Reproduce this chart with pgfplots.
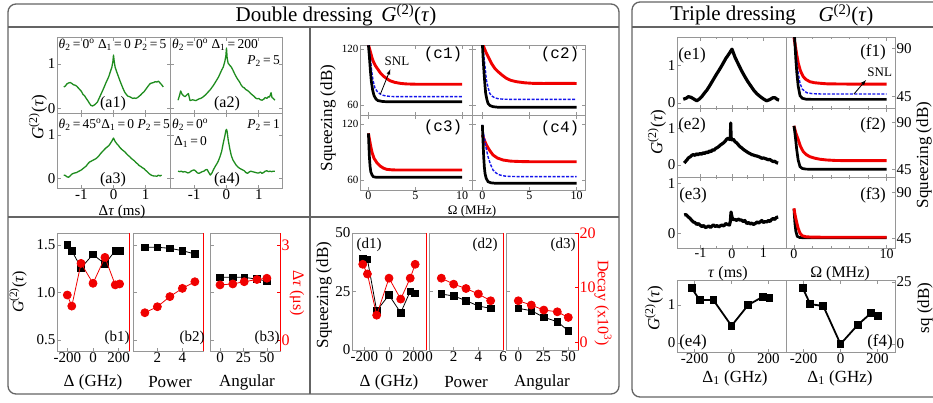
\documentclass[border=0pt]{standalone}
\usepackage{pgfplots}
\pgfplotsset{compat=1.18}
\usepackage{fontspec}
\setmainfont{Liberation Serif}
\newfontfamily\monofont{Liberation Mono}
\definecolor{dgreen}{RGB}{30,140,30}
\definecolor{framec}{RGB}{100,100,100}
\definecolor{axc}{RGB}{150,150,150}
\definecolor{sred}{RGB}{240,0,0}
\definecolor{sblue}{RGB}{20,20,235}
\newcommand{\fs}[1]{\fontsize{#1}{#1}\selectfont}
\newcommand{\Gt}{\textit{G}\textsuperscript{(2)}(\textit{τ})}
\newcommand{\eq}{\,=\,}
\pgfplotsset{
  every axis/.append style={scale only axis, anchor=north west,
    axis line style={draw=axc, line width=0.9pt},
    tick style={draw=axc, line width=0.6pt},
    tick align=inside, major tick length=3.5pt, minor tick length=2pt,
    ticklabel style={font=\fs{14}, inner sep=1.5pt},
    /pgf/number format/assume math mode=true},
  green/.style={dgreen, line width=1.3pt, no marks, line join=round},
  thickk/.style={black, line width=3.2pt, no marks, line join=round},
  cred/.style={sred, line width=2.9pt, no marks},
  cblk/.style={black, line width=2.7pt, no marks},
  cblu/.style={sblue, line width=1.4pt, dash pattern=on 3pt off 1.5pt, no marks},
  bsq/.style={black, line width=0.8pt, mark=square*, mark size=3.3pt, mark options={solid}},
  rci/.style={sred, line width=0.8pt, mark=*, mark size=4pt, mark options={solid}},
  RA/.style={axis x line=none, axis y line*=right, y axis line style={draw=red, line width=0.9pt},
    tick style={draw=red}, yticklabel style={text=red, font=\fs{16}}, ytick=\empty},
}
\begin{document}
\begin{tikzpicture}
\useasboundingbox (0,0) rectangle (933pt,-402pt);
% ---------- frames ----------
\draw[framec, line width=1.3pt, rounded corners=8pt] (8pt,-4pt) rectangle (619pt,-394pt);
\draw[framec, line width=1.1pt] (8pt,-27pt) -- (619pt,-27pt);
\draw[framec, line width=1.1pt] (310pt,-27pt) -- (310pt,-394pt);
\draw[framec, line width=1.1pt] (8pt,-217pt) -- (619pt,-217pt);
\draw[framec, line width=1.3pt, rounded corners=8pt] (632pt,-2pt) rectangle (950pt,-397pt);
\draw[framec, line width=1.1pt] (632pt,-27pt) -- (950pt,-27pt);
\node[font=\fs{21}] at (336pt,-15pt) {Double dressing \,\Gt};
\node[font=\fs{21}] at (733pt,-15pt) {Triple dressing};
\node[font=\fs{21}] at (846pt,-15pt) {\Gt};

% ---------- a panels ----------
\begin{axis}[at={(57pt,-37pt)}, width=113pt, height=76pt, xmin=-1.76, xmax=1.76, ymin=-0.11, ymax=1.61,
  xtick={-1,0,1}, xticklabels={}, ytick={0,1}, yticklabels={0,1}, yticklabel style={font=\fs{15}}]
\addplot[green] coordinates {(-1.55,0.48)(-1.5,0.50)(-1.45,0.55)(-1.4,0.57)(-1.35,0.58)(-1.3,0.56)(-1.25,0.53)(-1.2,0.52)(-1.15,0.50)(-1.1,0.46)(-1.05,0.42)(-1.0,0.38)(-0.95,0.31)(-0.9,0.28)(-0.85,0.22)(-0.8,0.17)(-0.75,0.11)(-0.7,0.06)(-0.65,0.05)(-0.6,0.07)(-0.55,0.10)(-0.5,0.14)(-0.45,0.22)(-0.4,0.30)(-0.35,0.38)(-0.3,0.46)(-0.25,0.55)(-0.2,0.63)(-0.15,0.71)(-0.1,0.82)(-0.05,0.93)(-0.02,1.05)(0,1.20)(0.02,1.07)(0.05,0.93)(0.1,0.82)(0.15,0.72)(0.2,0.62)(0.25,0.53)(0.3,0.44)(0.35,0.36)(0.4,0.31)(0.45,0.27)(0.5,0.26)(0.55,0.24)(0.6,0.22)(0.65,0.23)(0.7,0.22)(0.75,0.24)(0.8,0.27)(0.85,0.30)(0.9,0.34)(0.95,0.37)(1.0,0.42)(1.05,0.47)(1.1,0.52)(1.15,0.56)(1.2,0.57)(1.25,0.58)(1.3,0.60)(1.35,0.59)(1.4,0.61)(1.45,0.57)(1.5,0.53)(1.55,0.48)};
\end{axis}
\begin{axis}[at={(170pt,-37pt)}, width=112pt, height=76pt, xmin=-1.75, xmax=1.72, ymin=-0.11, ymax=1.61,
  xtick={-1,0,1}, xticklabels={}, ytick={0,1}, yticklabels={}]
\addplot[green] coordinates {(-1.5,0.18)(-1.45,0.30)(-1.42,0.39)(-1.38,0.32)(-1.33,0.28)(-1.28,0.26)(-1.23,0.30)(-1.18,0.33)(-1.13,0.17)(-1.05,0.19)(-1.0,0.18)(-0.95,0.17)(-0.9,0.19)(-0.85,0.21)(-0.8,0.22)(-0.75,0.24)(-0.7,0.27)(-0.65,0.30)(-0.6,0.34)(-0.55,0.38)(-0.5,0.42)(-0.45,0.47)(-0.4,0.52)(-0.35,0.58)(-0.3,0.64)(-0.25,0.70)(-0.2,0.78)(-0.15,0.86)(-0.1,0.93)(-0.05,1.06)(-0.02,1.18)(0,1.36)(0.02,1.14)(0.05,1.02)(0.1,0.97)(0.15,0.93)(0.2,0.86)(0.25,0.78)(0.3,0.71)(0.35,0.65)(0.4,0.60)(0.45,0.53)(0.5,0.48)(0.55,0.46)(0.6,0.42)(0.65,0.40)(0.7,0.37)(0.75,0.33)(0.8,0.30)(0.85,0.27)(0.9,0.23)(0.95,0.21)(1.0,0.22)(1.05,0.19)(1.1,0.18)(1.15,0.20)(1.2,0.24)(1.25,0.22)(1.3,0.26)(1.33,0.25)(1.36,0.30)(1.38,0.35)(1.41,0.24)(1.45,0.22)(1.5,0.18)};
\end{axis}
\begin{axis}[at={(57pt,-113pt)}, width=113pt, height=75pt, xmin=-1.76, xmax=1.76, ymin=-0.23, ymax=1.51,
  xtick={-1,0,1}, xticklabels={-1,0,1}, ytick={0,1}, yticklabels={0,1}, yticklabel style={font=\fs{15}}, xticklabel style={font=\fs{15}}]
\addplot[green] coordinates {(-1.55,0.07)(-1.5,0.06)(-1.45,0.03)(-1.4,0.02)(-1.35,0.05)(-1.3,0.09)(-1.25,0.11)(-1.2,0.12)(-1.15,0.13)(-1.1,0.15)(-1.0,0.19)(-0.95,0.22)(-0.9,0.25)(-0.85,0.28)(-0.8,0.33)(-0.75,0.37)(-0.7,0.39)(-0.65,0.41)(-0.6,0.43)(-0.55,0.45)(-0.5,0.48)(-0.45,0.52)(-0.4,0.57)(-0.35,0.61)(-0.3,0.65)(-0.25,0.69)(-0.2,0.72)(-0.15,0.75)(-0.1,0.80)(-0.05,0.86)(0,0.93)(0.05,0.85)(0.1,0.80)(0.15,0.76)(0.2,0.71)(0.25,0.67)(0.3,0.64)(0.35,0.61)(0.4,0.57)(0.45,0.53)(0.5,0.50)(0.55,0.46)(0.6,0.43)(0.65,0.40)(0.7,0.36)(0.75,0.33)(0.8,0.29)(0.85,0.27)(0.9,0.24)(0.95,0.22)(1.0,0.18)(1.05,0.15)(1.1,0.11)(1.15,0.08)(1.2,0.06)(1.25,0.05)(1.3,0.05)(1.35,0.04)(1.4,0.07)(1.45,0.05)(1.5,0.07)};
\end{axis}
\begin{axis}[at={(170pt,-113pt)}, width=112pt, height=75pt, xmin=-1.75, xmax=1.72, ymin=-0.23, ymax=1.51,
  xtick={-1,0,1}, xticklabels={-1,0,1}, ytick={0,1}, yticklabels={}, xticklabel style={font=\fs{15}}]
\addplot[green] coordinates {(-1.5,0.16)(-1.45,0.15)(-1.4,0.16)(-1.35,0.14)(-1.3,0.15)(-1.25,0.14)(-1.2,0.12)(-1.15,0.13)(-1.1,0.16)(-1.05,0.18)(-1.0,0.19)(-0.95,0.16)(-0.9,0.12)(-0.85,0.11)(-0.8,0.13)(-0.75,0.15)(-0.7,0.16)(-0.65,0.19)(-0.6,0.20)(-0.55,0.13)(-0.5,0.07)(-0.45,0.12)(-0.4,0.20)(-0.35,0.27)(-0.3,0.33)(-0.25,0.40)(-0.2,0.50)(-0.15,0.62)(-0.1,0.81)(-0.05,0.98)(-0.02,1.10)(0,1.13)(0.02,1.08)(0.05,0.90)(0.1,0.69)(0.15,0.52)(0.2,0.42)(0.25,0.36)(0.3,0.30)(0.35,0.26)(0.4,0.23)(0.45,0.21)(0.5,0.19)(0.55,0.17)(0.6,0.13)(0.65,0.11)(0.7,0.14)(0.75,0.16)(0.8,0.15)(0.85,0.14)(0.9,0.13)(0.95,0.12)(1.0,0.12)(1.05,0.14)(1.1,0.11)(1.15,0.13)(1.2,0.16)(1.25,0.17)(1.3,0.15)(1.35,0.16)(1.4,0.15)(1.45,0.16)(1.5,0.16)};
\end{axis}
\node[font=\fs{13.5}, anchor=west, inner sep=1pt] at (57.5pt,-45pt) {\textit{θ}\textsubscript{2}\eq0\textsuperscript{o} Δ\textsubscript{1}\eq0 \textit{P}\textsubscript{2}\eq5};
\node[font=\fs{13.5}, anchor=west, inner sep=1pt] at (171pt,-45pt) {\textit{θ}\textsubscript{2}\eq0\textsuperscript{o} Δ\textsubscript{1}\eq200};
\node[font=\fs{13.5}, anchor=east, inner sep=1pt] at (281pt,-61pt) {\textit{P}\textsubscript{2}\eq5};
\node[font=\fs{13.5}, anchor=west, inner sep=1pt] at (57.5pt,-125pt) {\textit{θ}\textsubscript{2}\eq45\textsuperscript{o}Δ\textsubscript{1}\eq0 \textit{P}\textsubscript{2}\eq5};
\node[font=\fs{13.5}, anchor=west, inner sep=1pt] at (171pt,-125pt) {\textit{θ}\textsubscript{2}\eq0\textsuperscript{o}};
\node[font=\fs{13.5}, anchor=east, inner sep=1pt] at (281pt,-125pt) {\textit{P}\textsubscript{2}\eq1};
\node[font=\fs{13.5}, anchor=west, inner sep=1pt] at (173pt,-142pt) {Δ\textsubscript{1}\eq0};
\node[font=\fs{16}] at (113pt,-104pt) {(a1)};
\node[font=\fs{16}] at (227pt,-104pt) {(a2)};
\node[font=\fs{16}] at (113pt,-180pt) {(a3)};
\node[font=\fs{16}] at (227pt,-180pt) {(a4)};
\node[font=\fs{17}, rotate=90] at (38pt,-117pt) {\Gt};
\node[font=\fs{15}] at (122pt,-212pt) {Δ\textit{τ} (ms)};

% ---------- c panels ----------
\begin{axis}[at={(360pt,-45pt)}, width=112pt, height=70pt, xmin=-0.9, xmax=11.05, ymin=49.3, ymax=124.3,
  xtick={0,5,10}, xticklabels={}, ytick={60,120}, yticklabels={60,120}, yticklabel style={font=\fs{11}}]
\addplot[cred] coordinates {(0,124.3)(0.1,121)(0.25,115.4)(0.4,110)(0.53,106.4)(0.75,102)(1.06,97.5)(1.3,94)(1.6,91)(2.0,88)(2.3,86)(2.8,84.3)(3.4,83.2)(4,82.6)(5,82.3)(6,82.2)(7,82.3)(8,82.2)(9,82.3)(10,82.2)};
\addplot[cblu] coordinates {(0,124)(0.1,117)(0.2,110)(0.35,96)(0.5,86)(0.7,78)(0.9,75)(1.24,71.8)(1.6,70.3)(1.95,69.6)(2.5,69.1)(3,69)(4,69)(5,69)(6,69)(7,69)(8,69)(9,69)(10,69)};
\addplot[cblk] coordinates {(0,124)(0.1,112)(0.2,98)(0.3,86)(0.45,76)(0.6,70)(0.8,66.5)(1.0,64.8)(1.5,63.8)(2,63.5)(3,63.5)(4,63.5)(5,63.5)(6,63.5)(7,63.5)(8,63.5)(9,63.5)(10,63.5)};
\draw[-latex, line width=0.8pt] (axis cs:1.28,71.8) -- (axis cs:2.34,98.3);
\node[font=\fs{13}] at (axis cs:3.05,106.4) {SNL};
\end{axis}
\begin{axis}[at={(472pt,-45pt)}, width=113pt, height=70pt, xmin=-1.1, xmax=10.9, ymin=49.3, ymax=124.3,
  xtick={0,5,10}, xticklabels={}, ytick={60,120}, yticklabels={}]
\addplot[cred] coordinates {(0,126)(0.2,121)(0.43,115.4)(0.7,110)(0.96,104.7)(1.3,99.5)(1.67,95.7)(2.1,92)(2.55,88.6)(3,86.5)(3.6,85)(4.5,83.8)(5.4,83.2)(6.5,83.1)(8,83.2)(10,83.1)};
\addplot[cblu] coordinates {(0,126)(0.1,118)(0.25,104.7)(0.43,86.8)(0.6,79)(0.78,72.5)(1.0,69.7)(1.3,67.8)(1.7,66.7)(2.3,66.2)(3,66.1)(5,66.1)(7,66.1)(10,66.1)};
\addplot[cblk] coordinates {(0,126)(0.08,110)(0.18,94)(0.27,82)(0.35,72.5)(0.48,66)(0.6,61.8)(0.8,59.5)(1.13,58.2)(1.6,57.7)(2,57.6)(4,57.6)(6,57.6)(8,57.6)(10,57.6)};
\end{axis}
\begin{axis}[at={(360pt,-115pt)}, width=112pt, height=75pt, xmin=-0.9, xmax=11.05, ymin=49.3, ymax=129.6,
  xtick={0,5,10}, xticklabels={0,5,10}, ytick={60,120}, yticklabels={60,120}, ticklabel style={font=\fs{12}}, yticklabel style={font=\fs{11}}]
\addplot[cred] coordinates {(0,110)(0.1,104)(0.25,95.7)(0.4,89)(0.6,83.2)(0.9,78.5)(1.24,75)(1.6,72.7)(1.95,71.4)(2.5,70.9)(3,70.7)(5,70.7)(7,70.7)(10,70.7)};
\addplot[cblk] coordinates {(0,110)(0.05,97)(0.1,85)(0.17,75)(0.25,68.9)(0.38,65.5)(0.53,63.5)(0.8,63)(2,62.9)(5,62.9)(10,62.9)};
\end{axis}
\begin{axis}[at={(472pt,-115pt)}, width=113pt, height=75pt, xmin=-1.1, xmax=10.9, ymin=49.3, ymax=129.6,
  xtick={0,5,10}, xticklabels={0,5,10}, ytick={60,120}, yticklabels={}, ticklabel style={font=\fs{12}}]
\addplot[cred] coordinates {(0,108.2)(0.2,103)(0.43,97.5)(0.75,92)(1.13,86.8)(1.6,83.5)(2.2,81.4)(3,80.2)(4,79.8)(5,79.6)(7,79.6)(10,79.6)};
\addplot[cblu] coordinates {(0,119)(0.1,111)(0.25,102.9)(0.4,94)(0.6,85)(0.85,77)(1.13,70.7)(1.5,67.2)(1.84,65.4)(2.4,64.2)(3,63.8)(4,63.6)(6,63.6)(8,63.6)(10,63.6)};
\addplot[cblk] coordinates {(0,119)(0.05,106)(0.14,85)(0.21,74)(0.28,67.2)(0.4,62)(0.6,58.2)(0.9,57)(1.3,56.6)(3,56.5)(6,56.5)(10,56.5)};
\end{axis}
\node[font=\monofont\fs{16}] at (443pt,-54pt) {(c1)};
\node[font=\monofont\fs{16}] at (560pt,-54pt) {(c2)};
\node[font=\monofont\fs{16}] at (443pt,-127pt) {(c3)};
\node[font=\monofont\fs{16}] at (560pt,-128pt) {(c4)};
\node[font=\fs{17}, rotate=90] at (328pt,-118pt) {Squeezing (dB)};
\node[font=\fs{13}] at (472pt,-211pt) {Ω (MHz)};

% ---------- b panels ----------
\begin{axis}[at={(57pt,-233pt)}, width=72pt, height=118pt, xmin=-280, xmax=280, ymin=0.384, ymax=1.626,
  xtick={-200,0,200}, xticklabels={-200,0,200}, ytick={0.5,1,1.5}, yticklabels={0.5,1.0,1.5}, ytick pos=left, xtick pos=bottom, ticklabel style={font=\fs{15}}]
\addplot[bsq] coordinates {(-200,1.5)(-165,1.44)(-93,1.26)(0,1.40)(93,1.30)(173,1.44)(207,1.44)};
\end{axis}
\begin{axis}[RA, at={(57pt,-233pt)}, width=72pt, height=118pt, xmin=-280, xmax=280, ymin=-0.35, ymax=3.38]
\addplot[rci] coordinates {(-200,1.42)(-165,1.07)(-93,2.42)(0,1.79)(93,2.61)(173,1.74)(207,1.77)};
\end{axis}
\begin{axis}[at={(133pt,-233pt)}, width=70pt, height=118pt, xmin=0.05, xmax=5.65, ymin=0.384, ymax=1.626,
  xtick={2,4}, xticklabels={2,4}, ytick={0.5,1,1.5}, yticklabels={}, ytick pos=left, xtick pos=bottom, ticklabel style={font=\fs{15}}]
\addplot[bsq] coordinates {(1,1.476)(2,1.476)(3,1.465)(4,1.44)(5,1.405)};
\end{axis}
\begin{axis}[RA, at={(133pt,-233pt)}, width=70pt, height=118pt, xmin=0.05, xmax=5.65, ymin=-0.35, ymax=3.38]
\addplot[rci] coordinates {(1,0.86)(2,1.05)(3,1.37)(4,1.63)(5,1.84)};
\end{axis}
\begin{axis}[at={(210pt,-233pt)}, width=70pt, height=118pt, xmin=-10.7, xmax=64, ymin=0.384, ymax=1.626,
  xtick={0,25,50}, xticklabels={0,25,50}, ytick={0.5,1,1.5}, yticklabels={}, ytick pos=left, xtick pos=bottom, ticklabel style={font=\fs{15}}]
\addplot[bsq] coordinates {(0,1.16)(13.6,1.16)(25.8,1.16)(39.4,1.14)(50,1.12)};
\end{axis}
\begin{axis}[RA, at={(210pt,-233pt)}, width=70pt, height=118pt, xmin=-10.7, xmax=64, ymin=-0.35, ymax=3.38,
  ytick={0,1.5,3}, yticklabels={0,,3}]
\addplot[rci] coordinates {(0,1.74)(13.6,1.77)(25.8,1.84)(39.4,1.91)(50,1.95)};
\end{axis}
\node[font=\fs{15}] at (117pt,-338pt) {(b1)};
\node[font=\fs{15}] at (192pt,-338pt) {(b2)};
\node[font=\fs{15}] at (267pt,-338pt) {(b3)};
\node[font=\fs{16}, rotate=90] at (18pt,-292pt) {\Gt};
\node[font=\fs{16}, rotate=-90, text=red] at (297pt,-293pt) {Δ\textit{τ} (μs)};
\node[font=\fs{17}] at (93pt,-382pt) {Δ (GHz)};
\node[font=\fs{17}] at (170pt,-382pt) {Power};
\node[font=\fs{17}] at (247pt,-382pt) {Angular};

% ---------- d panels ----------
\begin{axis}[at={(352pt,-233pt)}, width=74pt, height=117pt, xmin=-300, xmax=300, ymin=0, ymax=50,
  xtick={-200,0,200}, xticklabels={-200,0,200}, ytick={0,25,50}, yticklabels={0,25,50}, ytick pos=left, xtick pos=bottom, ticklabel style={font=\fs{15}}]
\addplot[bsq] coordinates {(-213,39.2)(-175,38.8)(-100,16.8)(0,23.5)(95,15.9)(172,25.1)(212,24.2)};
\end{axis}
\begin{axis}[RA, at={(352pt,-233pt)}, width=74pt, height=117pt, xmin=-300, xmax=300, ymin=-1.5, ymax=20]
\addplot[rci] coordinates {(-213,14.25)(-175,12.47)(-100,4.9)(0,11.7)(95,7.86)(172,11.7)(212,14.25)};
\end{axis}
\begin{axis}[at={(429pt,-233pt)}, width=74pt, height=117pt, xmin=0, xmax=6, ymin=0, ymax=50,
  xtick={0,2,4,6}, xticklabels={0,2,4,6}, ytick={0,25,50}, yticklabels={}, ytick pos=left, xtick pos=bottom, ticklabel style={font=\fs{15}}]
\addplot[bsq] coordinates {(1,23.9)(2,23.1)(3,21.1)(4,18.8)(5,17.8)};
\end{axis}
\begin{axis}[RA, at={(429pt,-233pt)}, width=74pt, height=117pt, xmin=0, xmax=6, ymin=-1.5, ymax=20]
\addplot[rci] coordinates {(1,11.7)(2,10.6)(3,9.8)(4,8.8)(5,7.55)};
\end{axis}
\begin{axis}[at={(506pt,-233pt)}, width=72pt, height=117pt, xmin=-12.3, xmax=59.7, ymin=0, ymax=50,
  xtick={0,25,50}, xticklabels={0,25,50}, ytick={0,25,50}, yticklabels={}, ytick pos=left, xtick pos=bottom, ticklabel style={font=\fs{15}}]
\addplot[bsq] coordinates {(0,17.8)(13,16.8)(25.5,14)(39,12.1)(50,8.2)};
\end{axis}
\begin{axis}[RA, at={(506pt,-233pt)}, width=72pt, height=117pt, xmin=-12.3, xmax=59.7, ymin=-1.5, ymax=20,
  ytick={0,10,20}, yticklabels={0,10,20}]
\addplot[rci] coordinates {(0,7.55)(13,6.76)(25.5,5.84)(39,5.52)(50,4.49)};
\end{axis}
\node[font=\fs{15}] at (369pt,-245pt) {(d1)};
\node[font=\fs{15}] at (485pt,-245pt) {(d2)};
\node[font=\fs{15}] at (563pt,-245pt) {(d3)};
\node[font=\fs{17}, rotate=90] at (324pt,-295pt) {Squeezing (dB)};
\node[font=\fs{16}, rotate=-90, text=red] at (603pt,-303pt) {Decay (x10\textsuperscript{3})};
\node[font=\fs{17}] at (389pt,-382pt) {Δ (GHz)};
\node[font=\fs{17}] at (466pt,-382pt) {Power};
\node[font=\fs{17}] at (542pt,-382pt) {Angular};

% ---------- e / f panels ----------
\begin{axis}[at={(677pt,-37pt)}, width=109pt, height=71pt, xmin=-1.75, xmax=1.72, ymin=-0.13, ymax=1.74,
  xtick={-1,0,1}, xticklabels={}, minor x tick num=1, ytick={0,1}, yticklabels={0,1}, ytick pos=left, ticklabel style={font=\fs{15}}]
\addplot[thickk] coordinates {(-1.55,0.10)(-1.45,0.13)(-1.39,0.17)(-1.3,0.15)(-1.2,0.10)(-1.12,0.06)(-1.05,0.10)(-0.96,0.17)(-0.9,0.24)(-0.8,0.34)(-0.7,0.47)(-0.6,0.61)(-0.5,0.75)(-0.4,0.88)(-0.3,1.02)(-0.2,1.17)(-0.1,1.29)(0,1.42)(0.1,1.20)(0.2,1.03)(0.3,0.86)(0.4,0.71)(0.5,0.57)(0.6,0.45)(0.7,0.33)(0.8,0.24)(0.9,0.17)(1.0,0.11)(1.1,0.06)(1.2,0.09)(1.3,0.14)(1.37,0.14)(1.45,0.09)(1.5,0.08)};
\end{axis}
\begin{axis}[at={(677pt,-108pt)}, width=109pt, height=69pt, xmin=-1.75, xmax=1.72, ymin=-0.33, ymax=1.55,
  xtick={-1,0,1}, xticklabels={}, minor x tick num=1, ytick={0,1}, yticklabels={0,1}, ytick pos=left, ticklabel style={font=\fs{15}}]
\addplot[thickk] coordinates {(-1.52,0.05)(-1.47,0.10)(-1.42,0.15)(-1.39,0.19)(-1.33,0.22)(-1.28,0.26)(-1.23,0.28)(-1.18,0.26)(-1.13,0.30)(-1.08,0.28)(-1.02,0.31)(-0.97,0.29)(-0.92,0.33)(-0.87,0.31)(-0.82,0.35)(-0.77,0.33)(-0.72,0.38)(-0.67,0.36)(-0.62,0.41)(-0.57,0.40)(-0.52,0.45)(-0.47,0.47)(-0.42,0.50)(-0.37,0.54)(-0.32,0.57)(-0.27,0.60)(-0.22,0.64)(-0.17,0.70)(-0.12,0.73)(-0.07,0.69)(-0.05,0.72)(-0.04,1.14)(-0.03,0.75)(0,0.68)(0.04,0.70)(0.1,0.63)(0.15,0.60)(0.2,0.55)(0.25,0.50)(0.3,0.47)(0.35,0.43)(0.4,0.40)(0.47,0.36)(0.52,0.33)(0.57,0.31)(0.63,0.28)(0.68,0.27)(0.74,0.25)(0.8,0.24)(0.89,0.21)(0.95,0.18)(1.0,0.19)(1.1,0.16)(1.15,0.14)(1.2,0.15)(1.25,0.12)(1.31,0.09)(1.36,0.10)(1.42,0.06)(1.47,0.05)};
\end{axis}
\begin{axis}[at={(677pt,-177pt)}, width=109pt, height=71pt, xmin=-1.75, xmax=1.72, ymin=-0.29, ymax=1.13,
  xtick={-1,0,1}, xticklabels={-1,0,1}, minor x tick num=1, ytick={0,1}, yticklabels={0,1}, ytick pos=left, ticklabel style={font=\fs{15}}, xticklabel style={font=\fs{14}, inner sep=0.5pt}]
\addplot[thickk] coordinates {(-1.52,0.37)(-1.47,0.38)(-1.42,0.35)(-1.39,0.33)(-1.33,0.30)(-1.28,0.26)(-1.23,0.23)(-1.18,0.22)(-1.12,0.18)(-1.07,0.20)(-1.02,0.17)(-0.96,0.14)(-0.9,0.16)(-0.85,0.12)(-0.8,0.13)(-0.74,0.15)(-0.68,0.12)(-0.62,0.16)(-0.59,0.17)(-0.53,0.14)(-0.47,0.16)(-0.42,0.13)(-0.38,0.15)(-0.32,0.17)(-0.26,0.15)(-0.2,0.20)(-0.14,0.18)(-0.08,0.17)(-0.05,0.25)(-0.03,0.43)(0,0.33)(0.03,0.28)(0.1,0.28)(0.15,0.26)(0.2,0.29)(0.25,0.27)(0.3,0.27)(0.36,0.24)(0.41,0.26)(0.47,0.20)(0.53,0.22)(0.58,0.19)(0.63,0.21)(0.68,0.18)(0.74,0.20)(0.8,0.23)(0.85,0.21)(0.89,0.23)(0.95,0.26)(1.0,0.22)(1.06,0.24)(1.1,0.23)(1.16,0.26)(1.21,0.24)(1.26,0.28)(1.31,0.30)(1.36,0.28)(1.41,0.32)(1.47,0.33)};
\end{axis}
\begin{axis}[at={(786pt,-37pt)}, width=109pt, height=71pt, xmin=-0.86, xmax=10.9, ymin=34.5, ymax=100.5,
  xtick={0,10}, xticklabels={}, minor x tick num=4, ytick={45,90}, yticklabels={45,90}, ytick pos=right, yticklabel pos=right, ticklabel style={font=\fs{15}}]
\addplot[cred] coordinates {(0,100)(0.1,94.7)(0.3,84)(0.47,76)(0.7,69)(1.0,63.6)(1.3,61)(1.7,59)(2.2,58)(2.8,57.5)(3.5,57)(5,56.8)(7,56.7)(10,56.7)};
\addplot[cblu] coordinates {(0,102)(0.2,85)(0.4,70)(0.65,57.5)(0.9,52)(1.37,48.7)(2,47.8)(3,47.5)(5,47.5)(7,47.5)(10,47.5)};
\addplot[cblk] coordinates {(0,110)(0.1,95)(0.2,80)(0.3,68)(0.45,55)(0.65,46)(0.9,43.5)(1.3,42.7)(2,42.5)(4,42.5)(7,42.5)(10,42.5)};
\draw[-latex, line width=0.8pt] (axis cs:6.47,47.5) -- (axis cs:7.77,60.5);
\node[font=\fs{13}] at (axis cs:9.25,68) {SNL};
\end{axis}
\begin{axis}[at={(786pt,-108pt)}, width=109pt, height=69pt, xmin=-0.86, xmax=10.9, ymin=37.6, ymax=104,
  xtick={0,10}, xticklabels={}, minor x tick num=4, ytick={45,90}, yticklabels={45,90}, ytick pos=right, yticklabel pos=right, ticklabel style={font=\fs{15}}]
\addplot[cred] coordinates {(0,86.8)(0.2,80)(0.47,73.3)(0.7,67)(1.0,62)(1.35,59)(1.7,57.2)(2.2,55.8)(2.8,54.7)(3.5,54)(4.5,53.5)(6,53.3)(8,53.3)(10,53.3)};
\addplot[cblk] coordinates {(0,86.8)(0.1,80)(0.2,72)(0.3,63.6)(0.45,54)(0.65,47.5)(0.9,45.8)(1.3,45.2)(2,45)(5,45)(10,45)};
\end{axis}
\begin{axis}[at={(786pt,-177pt)}, width=109pt, height=71pt, xmin=-0.86, xmax=10.9, ymin=35.4, ymax=105.5,
  xtick={0,10}, xticklabels={0,10}, minor x tick num=4, ytick={45,90}, yticklabels={45,90}, ytick pos=right, yticklabel pos=right, ticklabel style={font=\fs{15}}, xticklabel style={font=\fs{14}, inner sep=0.5pt}]
\addplot[cblk] coordinates {(0,74)(0.1,60)(0.2,52)(0.35,47)(0.6,45.8)(1,45.5)(5,45.5)(10,45.5)};
\addplot[cred] coordinates {(0,74.6)(0.1,69)(0.2,64.5)(0.3,60.5)(0.45,55)(0.65,50)(0.9,47.5)(1.3,46.5)(2,46.1)(5,46)(10,46)};
\end{axis}
\begin{axis}[at={(677pt,-280pt)}, width=109pt, height=72pt, xmin=-295, xmax=295, ymin=-0.24, ymax=1.66,
  xtick={-200,0,200}, xticklabels={-200,0,200}, ytick={0,1}, yticklabels={0,1}, ytick pos=left, ticklabel style={font=\fs{15}}]
\addplot[black, line width=1.8pt, mark=square*, mark size=3pt, mark options={solid}] coordinates {(-215,1.44)(-172,1.13)(-98,1.13)(0,0.45)(90,1.0)(170,1.22)(206,1.18)};
\end{axis}
\begin{axis}[at={(786pt,-280pt)}, width=109pt, height=72pt, xmin=-295, xmax=295, ymin=-3.2, ymax=25.8,
  xtick={-200,0,200}, xticklabels={-200,0,200}, ytick={0,25}, yticklabels={0,25}, ytick pos=right, yticklabel pos=right, ticklabel style={font=\fs{15}}]
\addplot[black, line width=1.8pt, mark=square*, mark size=3pt, mark options={solid}] coordinates {(-204,22.5)(-164,16.1)(-93,15.3)(0,0)(93,7.7)(164,12.4)(205,11.3)};
\end{axis}
\node[font=\fs{17}] at (692pt,-55pt) {(e1)};
\node[font=\fs{17}] at (692pt,-125pt) {(e2)};
\node[font=\fs{17}] at (693pt,-195pt) {(e3)};
\node[font=\fs{17}] at (873pt,-52pt) {(f1)};
\node[font=\fs{17}] at (873pt,-125pt) {(f2)};
\node[font=\fs{17}] at (873pt,-195pt) {(f3)};
\node[font=\fs{17}] at (693pt,-342pt) {(e4)};
\node[font=\fs{17}] at (880pt,-342pt) {(f4)};
\node[font=\fs{17}, rotate=90] at (657pt,-132pt) {\Gt};
\node[font=\fs{17}, rotate=90] at (654pt,-308pt) {\Gt};
\node[font=\fs{16}] at (728pt,-274pt) {\textit{τ} (ms)};
\node[font=\fs{16}] at (840pt,-274pt) {Ω (MHz)};
\node[font=\fs{17}] at (735pt,-378pt) {Δ\textsubscript{1} (GHz)};
\node[font=\fs{17}] at (840pt,-378pt) {Δ\textsubscript{1} (GHz)};
\node[font=\fs{17}, rotate=90] at (924pt,-155pt) {Squeezing (dB)};
\node[font=\fs{17}, rotate=90] at (925pt,-308pt) {sq (dB)};
\end{tikzpicture}
\end{document}
